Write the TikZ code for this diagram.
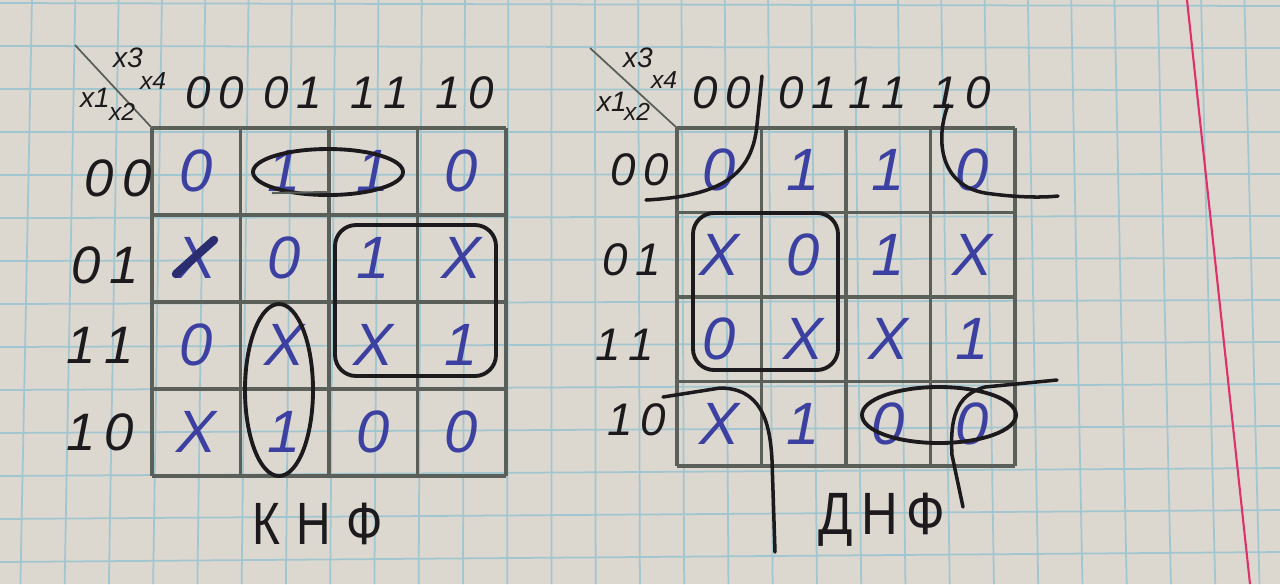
\documentclass[tikz,border=0pt]{standalone}
\usepackage{fontspec}
\usepackage{graphicx}
\setmainfont{Liberation Sans}
\usetikzlibrary{positioning}
\definecolor{paper}{HTML}{DCD8D0}
\definecolor{ruling}{HTML}{A2C6D0}
\definecolor{margin}{HTML}{E0306A}
\definecolor{pencil}{HTML}{5A5F59}
\definecolor{ink}{HTML}{1C1A1C}
\definecolor{pen}{HTML}{3C40A0}

\begin{document}
\begin{tikzpicture}[x=0.1mm, y=-0.1mm,
    cellval/.style={font=\fontsize{17}{17}\selectfont\itshape, text=pen, inner sep=0pt},
    head/.style={font=\fontsize{13}{13}\selectfont\itshape, text=ink, inner sep=0pt},
    vars/.style={font=\fontsize{8}{8}\selectfont\itshape, text=ink, inner sep=0pt},
    subvars/.style={font=\fontsize{7}{7}\selectfont\itshape, text=ink, inner sep=0pt},
    title/.style={font=\fontsize{17}{17}\selectfont, text=ink, inner sep=0pt},
    mapline/.style={draw=pencil, line width=0.9pt},
    group/.style={draw=ink, line width=1.1pt},
    cut/.style={draw=ink, line width=1pt, line cap=round}
]
\useasboundingbox (0,0) rectangle (1280,584);

% squared paper
\fill[paper] (0,0) rectangle (1280,584);
\foreach \i in {0,...,29}
  \draw[ruling, line width=0.5pt] ({32+43.3*\i},0) -- ({32+43.3*\i+(32+43.3*\i-560)*0.022},584);
\foreach \j in {0,...,13}
  \draw[ruling, line width=0.5pt] (0,{3+43*\j}) -- (1280,{6+42*\j});
\draw[margin, line width=0.6pt] (1187,0) -- (1250,584);

% KNF map
\foreach \k in {0,...,4} {
  \draw[mapline] ({152+88.5*\k},128) -- ({152+88.5*\k},476);
  \draw[mapline] (152,{128+87*\k}) -- (506,{128+87*\k});
}
\coordinate (kcorner) at (152,128);
\draw[pencil, line width=0.5pt] (75,45) -- (kcorner);
\node[vars] (kx3) at (128,58) {x3};
\node[subvars] (kx4) at (153,81) {x4};
\node[vars] (kx1) at (95,98) {x1};
\node[subvars] (kx2) at (122,112) {x2};

\foreach \t/\x [count=\n] in {0\,0/215, 0\,1/293, 1\,1/380, 1\,0/465}
  \node[head] (kc\n) at (\x,93) {\t};
\foreach \t/\x/\y [count=\n] in {0\,0/118/178, 0\,1/105/265, 1\,1/100/345, 1\,0/100/432}
  \node[head, font=\fontsize{15}{15}\selectfont\itshape] (kr\n) at (\x,\y) {\t};

\foreach \row [count=\r from 0] in {{0,1,1,0},{X,0,1,X},{0,X,X,1},{X,1,0,0}}
  \foreach \v [count=\c from 0] in \row
    \node[cellval] (k-\r-\c) at ({196+88.5*\c},{171+87*\r}) {\v};
\draw[pen!70!black, line width=2.4pt, line cap=round] (k-1-0.center) ++(-20,16) -- ++(38,-34);

\draw[group] (328,172) ellipse [x radius=75, y radius=23];
\draw[pencil, line width=0.6pt] (272,193) -- (330,192);
\draw[group, rounded corners=6pt] (335,225) rectangle (496,376);
\draw[group] (279,390) ellipse [x radius=34, y radius=86];

\node[title] (knf) at (318,524) {\scalebox{0.8}[1]{К\,\,Н\,\,Ф}};

% DNF map
\foreach \k in {0,...,4} {
  \draw[mapline] ({677+84.5*\k},128) -- ({677+84.5*\k},466);
  \draw[mapline] (677,{128+84.5*\k}) -- (1015,{128+84.5*\k});
}
\coordinate (dcorner) at (677,128);
\draw[pencil, line width=0.5pt] (590,48) -- (dcorner);
\node[vars] (dx3) at (638,58) {x3};
\node[subvars] (dx4) at (664,80) {x4};
\node[vars] (dx1) at (612,102) {x1};
\node[subvars] (dx2) at (637,112) {x2};

\foreach \t/\x [count=\n] in {0\,0/722, 0\,1/808, 1\,1/878, 1\,0/962}
  \node[head] (dc\n) at (\x,93) {\t};
\foreach \t/\x/\y [count=\n] in {0\,0/640/170, 0\,1/632/260, 1\,1/625/345, 1\,0/637/420}
  \node[head] (dr\n) at (\x,\y) {\t};

\foreach \row [count=\r from 0] in {{0,1,1,0},{X,0,1,X},{0,X,X,1},{X,1,0,0}}
  \foreach \v [count=\c from 0] in \row
    \node[cellval] (d-\r-\c) at ({719+84.5*\c},{170+84.5*\r}) {\v};

\draw[group, rounded corners=6pt] (693,213) rectangle (838,370);
\draw[group] (939,415) ellipse [x radius=77, y radius=28];
\draw[cut] (646,200) .. controls (720,196) and (752,176) .. (757,125) -- (762,76);
\draw[cut] (948,105) .. controls (935,140) and (940,185) .. (985,193) .. controls (1012,197) and (1040,198) .. (1058,196);
\draw[cut] (663,397) -- (720,388) .. controls (760,388) and (770,420) .. (772,460) -- (775,552);
\draw[cut] (1057,380) -- (985,387) .. controls (955,395) and (950,420) .. (952,455) -- (963,507);

\node[title] (dnf) at (882,520) {\scalebox{0.85}[1]{Д\,Н\,Ф}};

\end{tikzpicture}
\end{document}
